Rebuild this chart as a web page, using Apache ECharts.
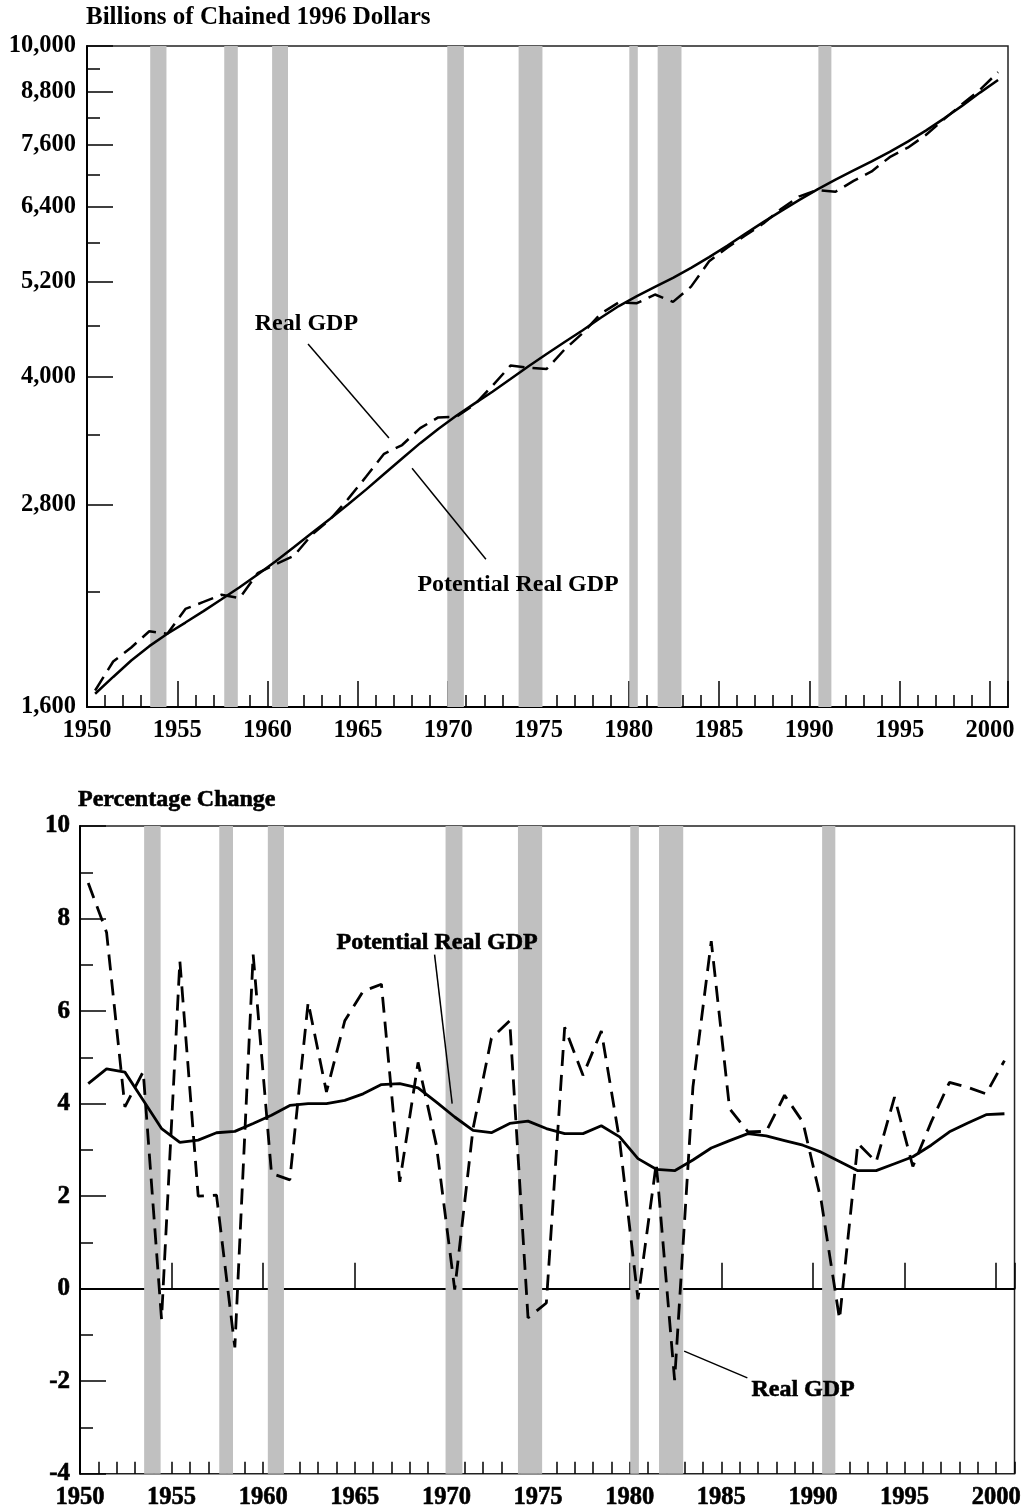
<!DOCTYPE html>
<html>
<head>
<meta charset="utf-8">
<script src="https://cdn.jsdelivr.net/npm/echarts@6/dist/echarts.min.js"></script>
<style>
  html, body { margin: 0; padding: 0; background: #fff; }
  #main { width: 1024px; height: 1510px; }
</style>
</head>
<body>
<div id="main"></div>
<script>
// annual data, 1950-2000
var years = [];
for (var y = 1950; y <= 2000; y++) years.push(y);

// billions of chained 1996 dollars
var realGdp = [1675, 1815, 1887, 1974, 1960, 2100, 2141, 2184, 2163, 2319,
  2377, 2432, 2579, 2690, 2847, 3029, 3228, 3308, 3466, 3571,
  3578, 3698, 3898, 4123, 4099, 4084, 4312, 4512, 4761, 4912,
  4901, 5021, 4919, 5132, 5505, 5717, 5912, 6113, 6368, 6592,
  6708, 6676, 6880, 7063, 7348, 7544, 7813, 8160, 8509, 8857,
  9300];
var potentialGdp = [1660, 1739, 1820, 1894, 1960, 2022, 2087, 2157, 2230, 2310,
  2397, 2492, 2592, 2695, 2805, 2923, 3052, 3187, 3325, 3459,
  3587, 3710, 3835, 3972, 4116, 4258, 4401, 4548, 4708, 4863,
  4999, 5128, 5259, 5405, 5569, 5747, 5940, 6136, 6332, 6528,
  6721, 6906, 7082, 7262, 7458, 7671, 7909, 8177, 8470, 8788,
  9100];

// percentage change
var realGrowth = [8.77, 7.7, 3.93, 4.69, -0.66, 7.08, 2.0, 2.02, -1.27, 7.22,
  2.49, 2.35, 6.19, 4.25, 5.79, 6.43, 6.58, 2.31, 4.89, 3.1,
  -0.02, 3.46, 5.41, 5.79, -0.63, -0.31, 5.65, 4.61, 5.57, 3.2,
  -0.23, 2.71, -1.98, 4.36, 7.51, 3.89, 3.39, 3.4, 4.18, 3.6,
  1.9, -0.66, 3.14, 2.74, 4.14, 2.64, 3.6, 4.46, 4.35, 4.21,
  4.93];
var potentialGrowth = [4.43, 4.75, 4.68, 4.07, 3.46, 3.16, 3.21, 3.37, 3.4, 3.57,
  3.75, 3.96, 4.0, 4.0, 4.07, 4.21, 4.41, 4.43, 4.34, 4.03,
  3.71, 3.42, 3.37, 3.57, 3.62, 3.46, 3.35, 3.35, 3.52, 3.28,
  2.81, 2.58, 2.55, 2.78, 3.04, 3.2, 3.35, 3.3, 3.2, 3.1,
  2.95, 2.75, 2.55, 2.55, 2.7, 2.85, 3.1, 3.39, 3.58, 3.76,
  3.78];

// recession periods (start, end) in fractional years
var recessions = [[1953.5, 1954.4], [1957.6, 1958.35], [1960.25, 1961.13],
  [1969.95, 1970.87], [1973.9, 1975.22], [1980.03, 1980.5],
  [1981.6, 1982.92], [1990.5, 1991.22]];

var levelTicks = [1600, 2800, 4000, 5200, 6400, 7600, 8800, 10000];
var levelMinorTicks = [2200, 3400, 4600, 5800, 7000, 8200, 9400];

var FONT = "'Liberation Serif', 'Times New Roman', serif";
var MID = 0.45; // annual values plotted mid-year

function pairs(vals) {
  return years.map(function (yr, i) { return [yr + MID, vals[i]]; });
}

var bands = recessions.map(function (r) {
  return [{ xAxis: r[0] }, { xAxis: r[1] }];
});

function txt(size, heavy) {
  return { fontFamily: FONT, fontWeight: 'bold', fontSize: size, color: '#000',
    textBorderColor: '#000', textBorderWidth: heavy ? 0.6 : 0 };
}

function xMajor(grid, heavy) {
  return {
    type: 'value', gridIndex: grid, position: 'bottom', min: 1950, max: 2001, interval: 5,
    axisLine: { lineStyle: { color: '#000', width: 2 } },
    axisTick: { inside: true, length: 26, lineStyle: { color: '#000', width: 1.5 } },
    axisLabel: Object.assign({ margin: 11,
      formatter: function (v) { return v % 5 === 0 ? String(v) : ''; } }, txt(24.5, heavy)),
    splitLine: { show: false }
  };
}
function xMinor(grid) {
  return {
    type: 'value', gridIndex: grid, position: 'bottom', min: 1950, max: 2001, interval: 1,
    axisLine: { show: false },
    axisTick: { inside: true, length: 12, lineStyle: { color: '#000', width: 1.5 } },
    axisLabel: { show: false },
    splitLine: { show: false }
  };
}

var chart = echarts.init(document.getElementById('main'));
chart.setOption({
  animation: false,
  backgroundColor: '#fff',
  textStyle: { fontFamily: FONT },
  title: [
    { text: 'Billions of Chained 1996 Dollars', left: 86, top: 5, padding: 0, textStyle: txt(25, false) },
    { text: 'Percentage Change', left: 78, top: 788, padding: 0, textStyle: txt(24, true) }
  ],
  grid: [
    { left: 87, top: 46, width: 921, height: 661, show: true, borderColor: '#222', borderWidth: 1.5 },
    { left: 80, top: 826, width: 935, height: 651, show: true, borderColor: '#222', borderWidth: 1.5 }
  ],
  xAxis: [xMajor(0, false), xMinor(0), xMajor(1, true), xMinor(1)],
  yAxis: [
    {
      type: 'log', gridIndex: 0, position: 'left', min: 1600, max: 10000, logBase: 10,
      axisLine: { lineStyle: { color: '#000', width: 2 } },
      axisTick: { inside: true, length: 26, customValues: levelTicks, lineStyle: { color: '#000', width: 1.5 } },
      axisLabel: Object.assign({ margin: 11, customValues: levelTicks,
        formatter: function (v) { return (Math.round(v / 100) * 100).toLocaleString('en-US'); } }, txt(24.5, false)),
      splitLine: { show: false }
    },
    {
      type: 'log', gridIndex: 0, position: 'left', min: 1600, max: 10000, logBase: 10,
      axisLine: { show: false },
      axisTick: { inside: true, length: 13, customValues: levelMinorTicks, lineStyle: { color: '#000', width: 1.5 } },
      axisLabel: { show: false },
      splitLine: { show: false }
    },
    {
      type: 'value', gridIndex: 1, position: 'left', min: -4, max: 10, interval: 2,
      axisLine: { lineStyle: { color: '#000', width: 2 } },
      axisTick: { inside: true, length: 26, lineStyle: { color: '#000', width: 1.5 } },
      minorTick: { show: true, splitNumber: 2, length: 13, lineStyle: { color: '#000', width: 1.5 } },
      axisLabel: Object.assign({ margin: 10 }, txt(25, true)),
      splitLine: { show: false }
    }
  ],
  series: [
    {
      name: 'Potential Real GDP', type: 'line', xAxisIndex: 0, yAxisIndex: 0,
      data: pairs(potentialGdp), showSymbol: false, symbol: 'none',
      lineStyle: { color: '#000', width: 2.5 }, z: 3,
      markArea: { silent: true, itemStyle: { color: '#c0c0c0' }, data: bands },
      markLine: {
        silent: true, symbol: ['none', 'none'], label: { show: false },
        lineStyle: { color: '#000', width: 1.5, type: 'solid' },
        data: [
          [{ coord: [1962.24, 4376] }, { coord: [1966.72, 3372] }],
          [{ coord: [1968.0, 3102] }, { coord: [1972.09, 2410] }]
        ]
      },
      markPoint: {
        silent: true, symbol: 'circle', symbolSize: 1, itemStyle: { color: 'rgba(0,0,0,0)' },
        label: Object.assign({ show: true, position: 'inside', formatter: '{b}' }, txt(24, false)),
        data: [
          { name: 'Real GDP', coord: [1962.15, 4625] },
          { name: 'Potential Real GDP', coord: [1973.87, 2243] }
        ]
      }
    },
    {
      name: 'Real GDP', type: 'line', xAxisIndex: 0, yAxisIndex: 0,
      data: pairs(realGdp), showSymbol: false, symbol: 'none',
      lineStyle: { color: '#000', width: 2.5, type: [16, 8] }, z: 4
    },
    {
      name: 'Potential Real GDP growth', type: 'line', xAxisIndex: 2, yAxisIndex: 2,
      data: pairs(potentialGrowth), showSymbol: false, symbol: 'none',
      lineStyle: { color: '#000', width: 2.8 }, z: 3,
      markArea: { silent: true, itemStyle: { color: '#c0c0c0' }, data: bands },
      markLine: {
        silent: true, symbol: ['none', 'none'], label: { show: false },
        lineStyle: { color: '#000', width: 1.5, type: 'solid' },
        data: [
          [{ coord: [1969.35, 7.22] }, { coord: [1970.31, 4.0] }],
          [{ coord: [1982.97, -1.35] }, { coord: [1986.42, -1.93] }],
          [{ yAxis: 0, lineStyle: { width: 1 } }, { yAxis: 0, x: '100%' }]
        ]
      },
      markPoint: {
        silent: true, symbol: 'circle', symbolSize: 1, itemStyle: { color: 'rgba(0,0,0,0)' },
        label: Object.assign({ show: true, position: 'inside', formatter: '{b}' }, txt(24, true)),
        data: [
          { name: 'Potential Real GDP', coord: [1969.49, 7.48] },
          { name: 'Real GDP', coord: [1989.46, -2.19] }
        ]
      }
    },
    {
      name: 'Real GDP growth', type: 'line', xAxisIndex: 2, yAxisIndex: 2,
      data: pairs(realGrowth), showSymbol: false, symbol: 'none',
      lineStyle: { color: '#000', width: 2.8, type: [16, 9] }, z: 4
    }
  ]
});
</script>
</body>
</html>
